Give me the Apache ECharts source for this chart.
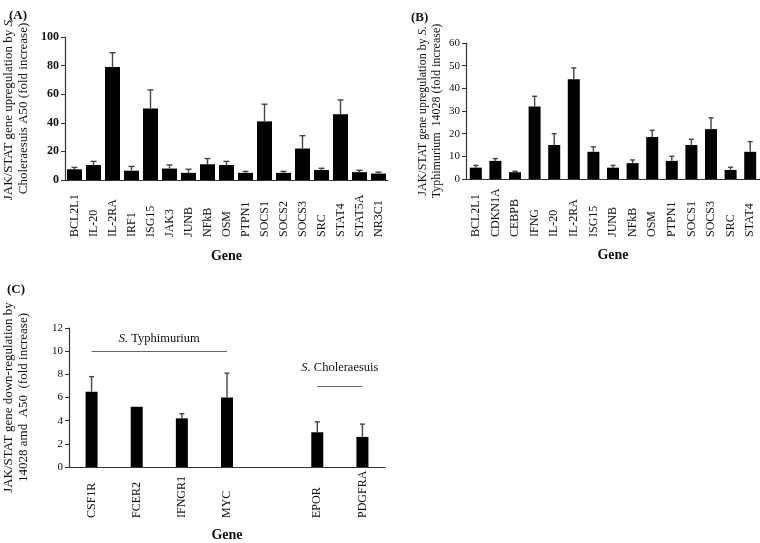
<!DOCTYPE html>
<html>
<head>
<meta charset="utf-8">
<script src="https://cdn.jsdelivr.net/npm/echarts@6/dist/echarts.min.js"></script>
<style>
html,body{margin:0;padding:0;background:#fff;}
#chart{width:760px;height:543px;}
</style>
</head>
<body>
<div id="chart"></div>
<script>
// Panel A: S. Choleraesuis A50 upregulation
const genesA = ['BCL2L1','IL-20','IL-2RA','IRF1','ISG15','JAK3','JUNB','NFkB','OSM','PTPN1','SOCS1','SOCS2','SOCS3','SRC','STAT4','STAT5A','NR3C1'];
const valuesA = [7.5, 10.5, 79, 6.5, 50, 8, 5, 11, 10.5, 5, 41, 5, 22, 7, 46, 5.5, 4.5];
const errorsA = [1.3, 2.5, 10, 3, 13, 2.5, 2.5, 4, 2.5, 1, 12, 1, 9, 1.2, 10, 1.3, 1];
const ticksA = {min: 0, max: 100, interval: 20};

// Panel B: S. Typhimurium 14028 upregulation
const genesB = ['BCL2L1','CDKN1A','CEBPB','IFNG','IL-20','IL-2RA','ISG15','JUNB','NFkB','OSM','PTPN1','SOCS1','SOCS3','SRC','STAT4'];
const valuesB = [5, 8, 3, 32, 15, 44, 12, 5, 7, 18.5, 8, 15, 22, 4, 12];
const errorsB = [1, 1, 0.4, 4.5, 5, 5, 2.2, 1, 1.4, 3, 2, 2.5, 5, 1.2, 4.5];
const ticksB = {min: 0, max: 60, interval: 10};

// Panel C: down-regulation by 14028 and A50
const genesC = ['CSF1R','FCER2','IFNGR1','MYC','','EPOR','PDGFRA'];
const valuesC = [6.5, 5.2, 4.2, 6.0, null, 3.0, 2.6];
const errorsC = [1.3, 0, 0.4, 2.1, null, 0.9, 1.1];
const ticksC = {min: 0, max: 12, interval: 2};
const groupTyphi = {from: 'CSF1R', to: 'MYC', level: 10};
const groupChol = {from: 'EPOR', to: 'PDGFRA', level: 7};

const FONT = '"Liberation Serif", "Times New Roman", serif';
const chart = echarts.init(document.getElementById('chart'), null, {renderer: 'canvas'});

function errItem(capHalf) {
  return function (params, api) {
    const v = api.value(1), e = api.value(2);
    if (v == null || isNaN(v) || !e) return null;
    const base = api.coord([api.value(0), v]);
    const top = api.coord([api.value(0), v + e]);
    const st = {stroke: '#444', lineWidth: 1.4};
    return {type: 'group', children: [
      {type: 'line', shape: {x1: base[0], y1: base[1], x2: top[0], y2: top[1]}, style: st},
      {type: 'line', shape: {x1: top[0] - capHalf, y1: top[1], x2: top[0] + capHalf, y2: top[1]}, style: st}
    ]};
  };
}
function errData(vals, errs) {
  return vals.map((v, i) => [i, v, errs[i]]);
}
function xAx(idx, cats, margin, gap) {
  return {
    gridIndex: idx, type: 'category', data: cats,
    axisLine: {show: true, lineStyle: {color: '#333', width: 1.2}},
    axisTick: {show: false},
    axisLabel: {interval: 0, rotate: 90, align: 'left', verticalAlign: 'middle', margin: margin,
      fontFamily: FONT, fontSize: 12, color: '#111'},
    name: 'Gene', nameLocation: 'middle', nameGap: gap,
    nameTextStyle: {fontFamily: FONT, fontSize: 14, fontWeight: 'bold', color: '#111'}
  };
}
function yAx(idx, t, nameRich, gap, tickFont, bold, nameSize) {
  return {
    gridIndex: idx, type: 'value', min: t.min, max: t.max, interval: t.interval,
    splitLine: {show: false},
    axisLine: {show: true, lineStyle: {color: '#333', width: 1.2}},
    axisTick: {show: true, length: 4, lineStyle: {color: '#333'}},
    axisLabel: {fontFamily: FONT, fontSize: tickFont, fontWeight: bold ? 'bold' : 'normal', color: '#111', margin: 6},
    name: nameRich, nameLocation: 'middle', nameRotate: 90, nameGap: gap,
    nameTextStyle: {fontFamily: FONT, fontSize: nameSize, color: '#111', lineHeight: nameSize + 2,
      rich: {
        n: {fontFamily: FONT, fontSize: nameSize, color: '#111', lineHeight: nameSize + 2},
        i: {fontFamily: FONT, fontSize: nameSize, fontStyle: 'italic', color: '#111', lineHeight: nameSize + 2}
      }}
  };
}

const option = {
  animation: false,
  backgroundColor: '#fff',
  title: [
    {text: '(A)', left: 4, top: 4, textStyle: {fontFamily: FONT, fontSize: 13, fontWeight: 'bold', color: '#111'}},
    {text: '(B)', left: 406, top: 6, textStyle: {fontFamily: FONT, fontSize: 13, fontWeight: 'bold', color: '#111'}},
    {text: '(C)', left: 2, top: 278, textStyle: {fontFamily: FONT, fontSize: 13, fontWeight: 'bold', color: '#111'}}
  ],
  grid: [
    {left: 63, top: 37, width: 325, height: 143},
    {left: 466, top: 43, width: 294, height: 136},
    {left: 68, top: 328, width: 317, height: 141}
  ],
  xAxis: [
    xAx(0, genesA, 57, 69),
    xAx(1, genesB, 58, 69),
    xAx(2, genesC, 51, 61)
  ],
  yAxis: [
    yAx(0, ticksA, '{n|JAK/STAT gene upregulation by }{i|S.}\n{n|Choleraesuis A50 (fold increase)}', 34, 12, true, 13),
    yAx(1, ticksB, '{n|JAK/STAT gene upregulation by }{i|S.}\n{n|Typhimurium  14028 (fold increase)}', 22, 11, false, 12),
    yAx(2, ticksC, '{n|JAK/STAT gene down-regulation by}\n{n|14028 amd  A50  (fold increase)}', 38, 11, false, 13)
  ],
  series: [
    {type: 'bar', xAxisIndex: 0, yAxisIndex: 0, data: valuesA, barWidth: 15, itemStyle: {color: '#000'}},
    {type: 'custom', xAxisIndex: 0, yAxisIndex: 0, renderItem: errItem(3), data: errData(valuesA, errorsA), z: 3},
    {type: 'bar', xAxisIndex: 1, yAxisIndex: 1, data: valuesB, barWidth: 12, itemStyle: {color: '#000'}},
    {type: 'custom', xAxisIndex: 1, yAxisIndex: 1, renderItem: errItem(2.5), data: errData(valuesB, errorsB), z: 3},
    {type: 'bar', xAxisIndex: 2, yAxisIndex: 2, data: valuesC, barWidth: 12, itemStyle: {color: '#000'},
      markLine: {
        silent: true, symbol: 'none', animation: false,
        lineStyle: {color: '#666', width: 1, type: 'solid'},
        label: {show: true, position: 'insideMiddleTop', distance: 6, fontFamily: FONT, fontSize: 12.5, color: '#111',
          rich: {i: {fontFamily: FONT, fontSize: 12.5, fontStyle: 'italic', color: '#111'},
                 n: {fontFamily: FONT, fontSize: 12.5, color: '#111'}}},
        data: [
          [{coord: [groupTyphi.from, groupTyphi.level], label: {formatter: '{i|S.}{n| Typhimurium}'}},
           {coord: [groupTyphi.to, groupTyphi.level]}],
          [{coord: [groupChol.from, groupChol.level], label: {formatter: '{i|S.}{n| Choleraesuis}', distance: 12}},
           {coord: [groupChol.to, groupChol.level]}]
        ]
      }},
    {type: 'custom', xAxisIndex: 2, yAxisIndex: 2, renderItem: errItem(2.5), data: errData(valuesC, errorsC), z: 3}
  ]
};
chart.setOption(option);
</script>
</body>
</html>
